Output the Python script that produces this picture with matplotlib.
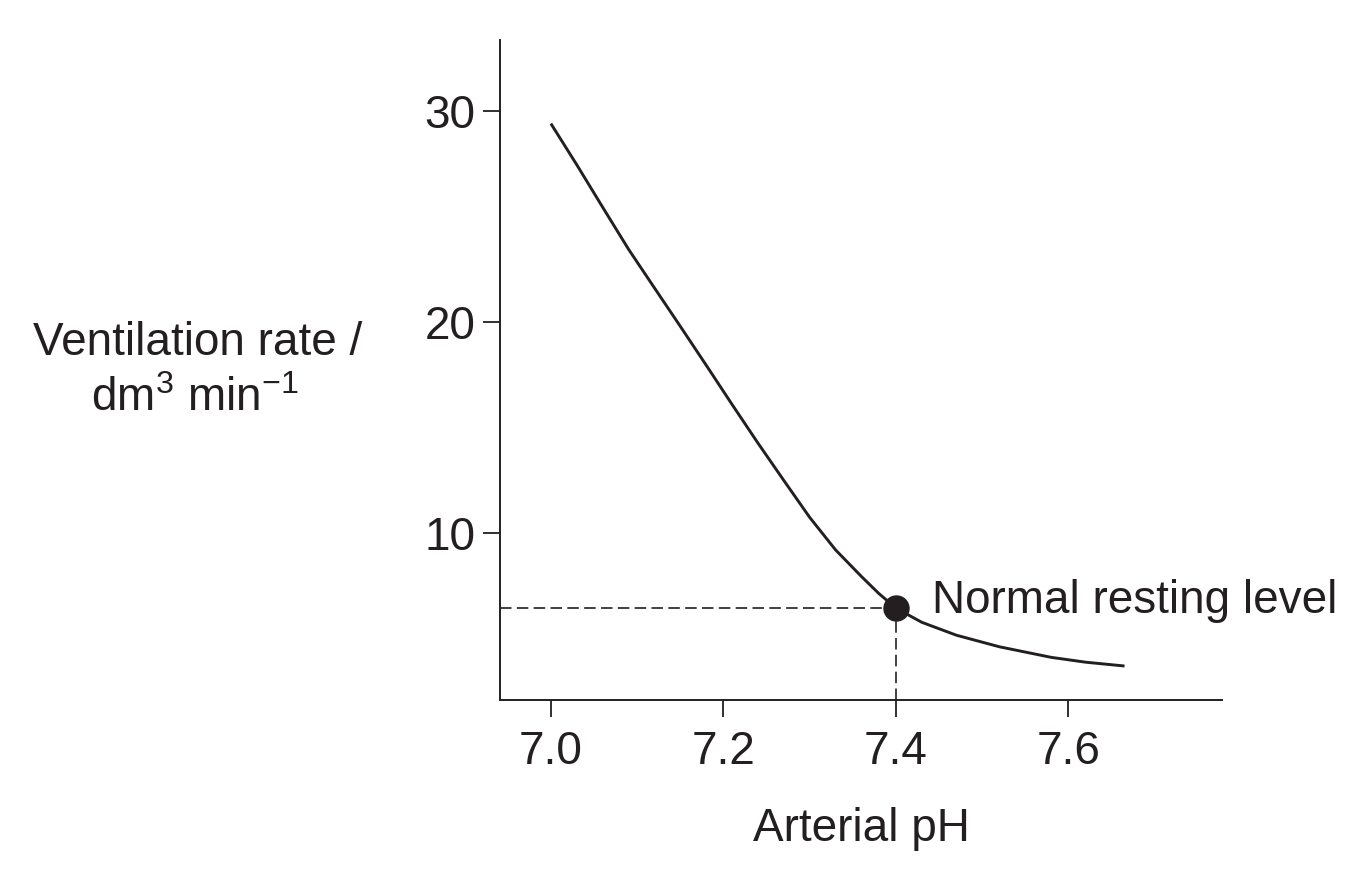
import matplotlib
matplotlib.use("Agg")
import matplotlib.pyplot as plt

plt.rcParams['font.family'] = ['Liberation Sans', 'DejaVu Sans']
plt.rcParams['mathtext.fontset'] = 'custom'
plt.rcParams['mathtext.rm'] = 'Liberation Sans'
plt.rcParams['mathtext.it'] = 'Liberation Sans:italic'

ink = '#231f20'

# courbe : pH artériel -> débit ventilatoire (dm3/min)
ph = [7.00, 7.03, 7.06, 7.09, 7.12, 7.15, 7.18, 7.21, 7.24, 7.27, 7.30,
      7.33, 7.36, 7.38, 7.40, 7.43, 7.47, 7.52, 7.58, 7.62, 7.665]
vent = [29.40, 27.45, 25.44, 23.45, 21.62, 19.80, 17.96, 16.10, 14.27, 12.50,
        10.75, 9.21, 7.95, 7.15, 6.45, 5.78, 5.17, 4.62, 4.12, 3.89, 3.71]

rest_ph = 7.4
rest_vent = 6.45

x_ticks = [7.0, 7.2, 7.4, 7.6]
x_labels = ['7.0', '7.2', '7.4', '7.6']
y_ticks = [10, 20, 30]

fig = plt.figure(figsize=(13.62, 8.72), dpi=100)
ax = fig.add_axes([500/1362, 1 - 700/872, 722/1362, 660/872])

ax.set_xlim(6.941, 7.778)
ax.set_ylim(2.10, 33.36)

ax.plot(ph, vent, color=ink, lw=2.1, solid_capstyle='butt',
        solid_joinstyle='round')

# pointillés vers les axes
x0 = ax.get_xlim()[0]
y0 = ax.get_ylim()[0]
ax.plot([x0, rest_ph], [rest_vent, rest_vent], color=ink, lw=1.2,
        linestyle=(0, (6.9, 3.2)))
ax.plot([rest_ph, rest_ph], [y0, rest_vent], color=ink, lw=1.2,
        linestyle=(0, (6.9, 3.2)))
ax.plot([rest_ph], [rest_vent], 'o', color=ink, markersize=18, zorder=5)

ax.annotate('Normal resting level', xy=(rest_ph, rest_vent),
            xytext=(36, -5), textcoords='offset pixels',
            fontsize=33, color=ink, va='baseline', ha='left')

for s in ['top', 'right']:
    ax.spines[s].set_visible(False)
for s in ['left', 'bottom']:
    ax.spines[s].set_linewidth(1.4)
    ax.spines[s].set_color(ink)

ax.set_xticks(x_ticks)
ax.set_xticklabels(x_labels)
ax.set_yticks(y_ticks)
ax.tick_params(axis='both', direction='out', length=12.5, width=1.3,
               colors=ink, labelsize=33)
ax.tick_params(axis='x', pad=9)
ax.tick_params(axis='y', pad=5)

ax.set_xlabel('Arterial pH', fontsize=33, color=ink, labelpad=24)

fig.text(198/1362, 1 - 355/872, 'Ventilation rate /', fontsize=33,
         color=ink, ha='center', va='baseline')
fig.text(195/1362, 1 - 411/872, r'dm$^{\mathrm{3}}$ min$^{\mathrm{-1}}$',
         fontsize=33, color=ink, ha='center', va='baseline')

fig.savefig('out.png', dpi=100)
